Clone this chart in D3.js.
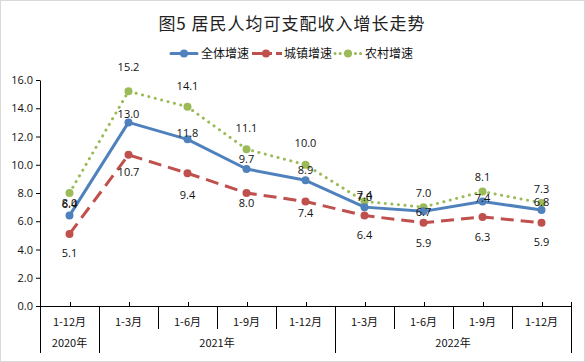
<!DOCTYPE html>
<html><head><meta charset="utf-8">
<script src="https://cdn.jsdelivr.net/npm/d3@7"></script>
<style>body{margin:0;background:#fff}svg{display:block}</style>
</head><body>
<svg id="c" width="585" height="362"></svg>
<script>
const categories = ["1-12月","1-3月","1-6月","1-9月","1-12月","1-3月","1-6月","1-9月","1-12月"];
const years = ["2020年","2021年","2022年"];
const yearSpans = [1,4,4];
const seriesNames = ["全体增速","城镇增速","农村增速"];
const totalGrowth = [6.4,13.0,11.8,9.7,8.9,7.0,6.7,7.4,6.8];
const urbanGrowth = [5.1,10.7,9.4,8.0,7.4,6.4,5.9,6.3,5.9];
const ruralGrowth = [8.0,15.2,14.1,11.1,10.0,7.4,7.0,8.1,7.3];
const yTicks = [0,2,4,6,8,10,12,14,16];

// label vertical offsets (styling, px)
const labelDy = [
  [-12,-8,-6,-10,-10,-10,1,-3,-8],
  [19,17,22,10,12,19,20,20,19],
  [10,-24,-21,-21,-22,-6,-14,-15,-14]
];

const svg = d3.select("#c");
const W=585,H=362;
svg.append("rect").attr("x",0.5).attr("y",0.5).attr("width",W-1).attr("height",H-1)
  .attr("fill","#fff").attr("stroke","#d9d9d9");

const numFont = "'Open Sans','Noto Sans',sans-serif";
const cjkFont = "'Noto Sans CJK SC',sans-serif";

const x = d3.scaleBand().domain(d3.range(categories.length)).range([40,571]);
const y = d3.scaleLinear().domain([0,16]).range([306,80]);

// title
svg.append("text").attr("x",292).attr("y",30).attr("text-anchor","middle")
  .attr("font-family",cjkFont).attr("font-size",17).attr("letter-spacing",1).attr("fill","#222")
  .text("图5 居民人均可支配收入增长走势");

// y axis
const ya = svg.append("g").attr("transform","translate(40,0)")
  .call(d3.axisLeft(y).tickValues(yTicks).tickFormat(d3.format(".1f")).tickSize(4).tickSizeOuter(0));
ya.select(".domain").attr("stroke","#000");
ya.selectAll(".tick line").attr("stroke","#000");
ya.selectAll("text").attr("font-family",numFont).attr("font-size",11).attr("fill","#111").attr("x",-7);

// x axis line
const g = svg.append("g");
g.append("line").attr("x1",40).attr("x2",571).attr("y1",306.5).attr("y2",306.5).attr("stroke","#000");
categories.forEach((c,i)=>{
  const cx = x(i)+x.bandwidth()/2;
  g.append("line").attr("x1",Math.round(cx)+0.5).attr("x2",Math.round(cx)+0.5).attr("y1",302).attr("y2",306).attr("stroke","#000");
  g.append("text").attr("x",cx).attr("y",326).attr("text-anchor","middle")
    .attr("font-family",cjkFont).attr("font-size",11).attr("fill","#111").text(c);
});
// separators
const boundaries = [0];
yearSpans.reduce((a,s)=>{boundaries.push(a+s);return a+s;},0);
for(let i=0;i<=categories.length;i++){
  const bx = i<categories.length ? x(i) : x.range()[1];
  const isGroup = boundaries.includes(i);
  g.append("line").attr("x1",Math.round(bx)+0.5).attr("x2",Math.round(bx)+0.5)
    .attr("y1",isGroup && (i===0||i===categories.length)?302:306).attr("y2",isGroup?353:329).attr("stroke","#000");
}
let acc=0;
years.forEach((yr,k)=>{
  const x0 = x(acc), x1 = acc+yearSpans[k]<categories.length ? x(acc+yearSpans[k]) : x.range()[1];
  g.append("text").attr("x",(x0+x1)/2).attr("y",347).attr("text-anchor","middle")
    .attr("font-family",cjkFont).attr("font-size",11).attr("fill","#111").text(yr);
  acc+=yearSpans[k];
});

const colors = ["#4F81BD","#C0504D","#9BBB59"];
const dashes = [null,"13,7","0.1,6.5"];
const caps = ["round","butt","round"];
const data = [totalGrowth, urbanGrowth, ruralGrowth];
const line = d3.line().x((d,i)=>x(i)+x.bandwidth()/2).y(d=>y(d));

// draw in order: green (back), red, blue
[2,1,0].forEach(s=>{
  svg.append("path").datum(data[s]).attr("d",line).attr("fill","none")
    .attr("stroke",colors[s]).attr("stroke-width",3).attr("stroke-linecap",caps[s])
    .attr("stroke-linejoin","round").attr("stroke-dasharray",dashes[s]);
  svg.selectAll(null).data(data[s]).enter().append("circle")
    .attr("cx",(d,i)=>x(i)+x.bandwidth()/2).attr("cy",d=>y(d)).attr("r",4).attr("fill",colors[s]);
});
[2,1,0].forEach(s=>{
  svg.selectAll(null).data(data[s]).enter().append("text")
    .attr("x",(d,i)=>x(i)+x.bandwidth()/2).attr("y",(d,i)=>y(d)+labelDy[s][i]+4)
    .attr("text-anchor","middle").attr("font-family",numFont).attr("font-size",11).attr("fill","#111")
    .text(d=>d3.format(".1f")(d));
});

// legend
const legX = [171,252,335];
const legDash = [null,"20,4,6","0.1,5"];
const lg = svg.append("g");
seriesNames.forEach((n,s)=>{
  const lx = legX[s], ly = 53.5;
  lg.append("line").attr("x1",lx).attr("x2",lx+(s===1?30:26)).attr("y1",ly).attr("y2",ly)
    .attr("stroke",colors[s]).attr("stroke-width",3).attr("stroke-linecap",caps[s])
    .attr("stroke-dasharray",legDash[s]);
  lg.append("circle").attr("cx",lx+(s===1?14:13)).attr("cy",ly).attr("r",4).attr("fill",colors[s]);
  lg.append("text").attr("x",lx+(s===1?32:30)).attr("y",ly+4.5).attr("font-family",cjkFont)
    .attr("font-size",12).attr("fill","#111").text(n);
});
</script>
</body></html>
